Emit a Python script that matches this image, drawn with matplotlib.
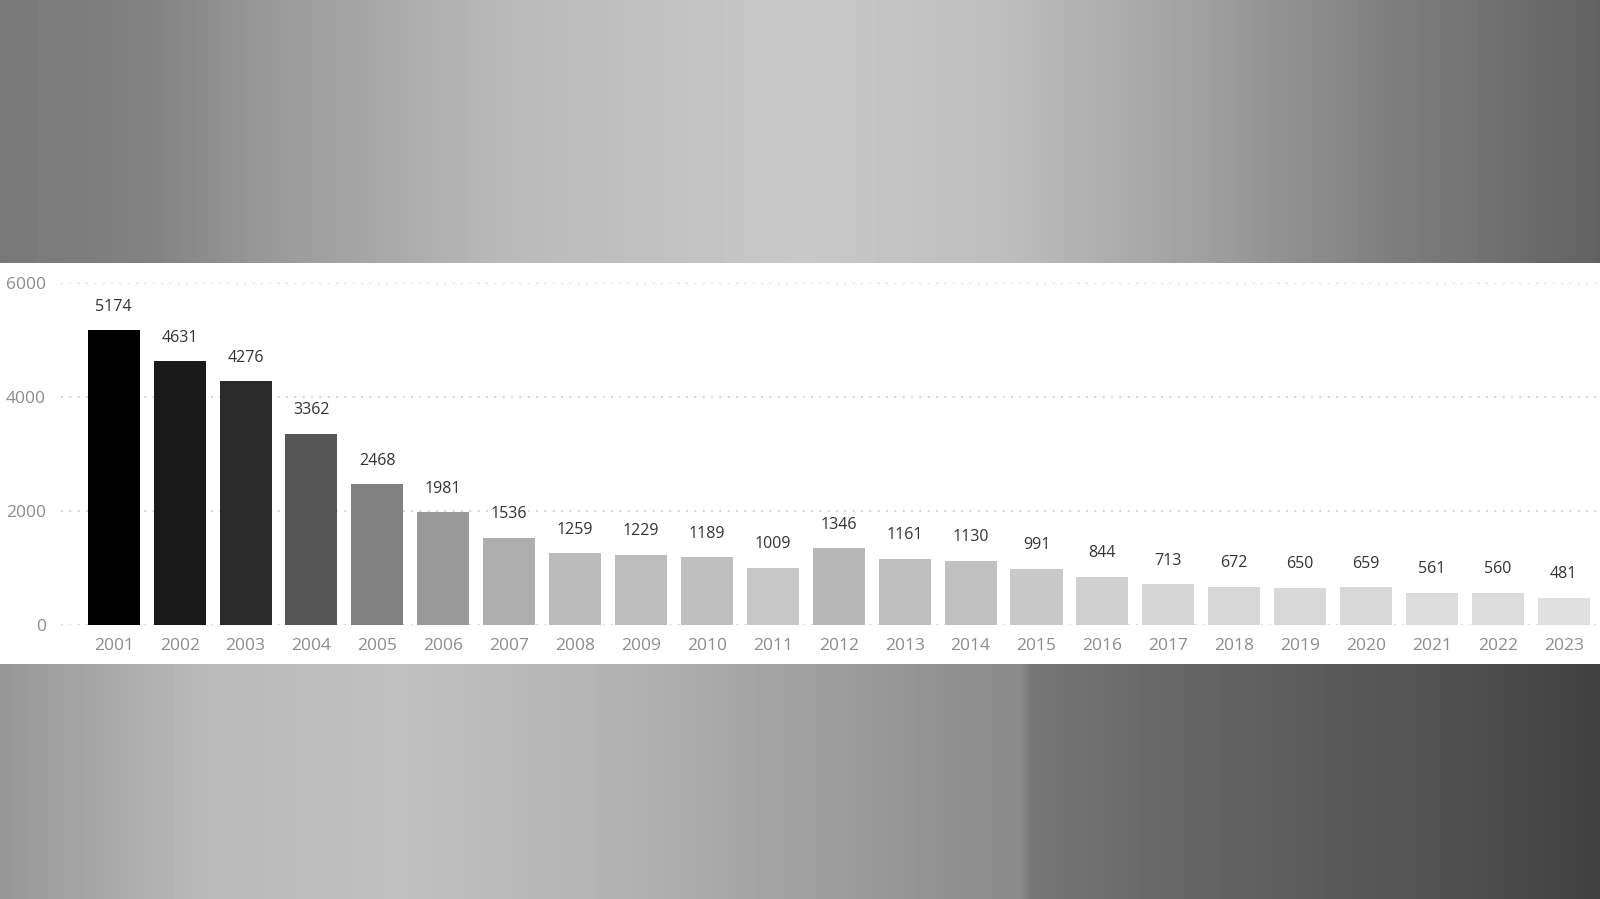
import numpy as np
import matplotlib
matplotlib.use("Agg")
import matplotlib.pyplot as plt
from matplotlib.colors import LinearSegmentedColormap, Normalize
from matplotlib.patches import Rectangle

plt.rcParams['font.family'] = ['Open Sans', 'DejaVu Sans']

years = [str(y) for y in range(2001, 2024)]
values = [5174, 4631, 4276, 3362, 2468, 1981, 1536, 1259, 1229, 1189, 1009,
          1346, 1161, 1130, 991, 844, 713, 672, 650, 659, 561, 560, 481]
yticks = [0, 2000, 4000, 6000]

W, H, DPI = 1600, 899, 100
fig = plt.figure(figsize=(W / DPI, H / DPI), dpi=DPI)

# ---- decorative gray background ----
bg = fig.add_axes([0, 0, 1, 1], zorder=-10)
bg.set_axis_off()
xs = np.arange(W)
top_prof = np.interp(xs, [0, 150, 250, 500, 800, 1000, 1200, 1400, 1600],
                     [120, 130, 150, 185, 200, 190, 160, 125, 98])
bot_prof = np.interp(xs, [0, 200, 400, 600, 800, 1020, 1032, 1200, 1400, 1600],
                     [150, 185, 192, 180, 160, 138, 118, 100, 85, 65])
img = np.zeros((H, W))
img[:464, :] = top_prof[None, :]
img[464:, :] = bot_prof[None, :]
bg.imshow(img, cmap='gray', vmin=0, vmax=255, aspect='auto',
          extent=[0, 1, 0, 1], interpolation='bilinear')
bg.set_xlim(0, 1)
bg.set_ylim(0, 1)

# white band
band_top, band_bot = 263, 664
fig.patches.append(Rectangle((0, 1 - band_bot / H), 1, (band_bot - band_top) / H,
                             transform=fig.transFigure, facecolor='white',
                             edgecolor='none', zorder=-5))

# ---- chart ----
ax_left = 61 / W
ax_bottom = 1 - 625 / H
ax_top = 1 - 283.3 / H
ax = fig.add_axes([ax_left, ax_bottom, 1 - ax_left, ax_top - ax_bottom])
ax.patch.set_alpha(0)

cmap = LinearSegmentedColormap.from_list('g', ['#e0e0e0', '#000000'])
norm = Normalize(vmin=min(values), vmax=max(values))
colors = [cmap(norm(v)) for v in values]

x = np.arange(len(years))
ax.bar(x, values, width=0.79, color=colors, zorder=3)
for xi, v in zip(x, values):
    ax.annotate(str(v), (xi, v), xytext=(0, 17), textcoords='offset points',
                ha='center', va='center', fontsize=11.5, color='#333333')

ax.set_xlim(-0.8, 22.55)
ax.set_ylim(0, 6000)
ax.set_yticks(yticks)
ax.set_yticklabels([str(t) for t in yticks])
ax.set_xticks(x)
ax.set_xticklabels(years)
for s in ax.spines.values():
    s.set_visible(False)
ax.tick_params(axis='both', length=0, labelsize=12.5, labelcolor='#8c8c8c')
ax.tick_params(axis='y', pad=11)
ax.tick_params(axis='x', pad=9)
ax.yaxis.grid(True, color='#cfcfcf', linewidth=1.2, linestyle=(0, (1.2, 3.8)), zorder=0)
ax.xaxis.grid(False)
ax.set_axisbelow(True)

fig.savefig('out.png', dpi=DPI)
